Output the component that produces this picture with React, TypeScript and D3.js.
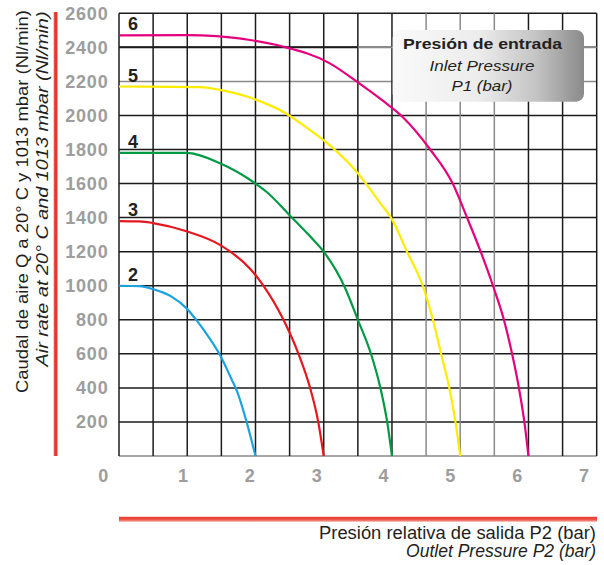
import React from "react";
import * as d3 from "d3";

// ---- data ----
const inletPressures = [2, 3, 4, 5, 6];
const curve2P2 = [0, 0.3, 0.5, 0.77, 0.99, 1.12, 1.26, 1.47, 1.65, 1.73, 1.87, 2.0];
const curve2Q = [1000, 998, 980, 936, 867, 805, 730, 600, 450, 380, 200, 0];
const curve3P2 = [0, 0.3, 0.5, 0.99, 1.48, 1.92, 2.1, 2.41, 2.63, 2.8, 2.92, 3.0];
const curve3Q = [1380, 1378, 1368, 1320, 1240, 1100, 1010, 800, 600, 400, 200, 0];
const curve4P2 = [0, 0.99, 1.48, 2.0, 2.16, 2.51, 2.8, 3.0, 3.31, 3.5, 3.7, 3.83, 3.93, 4.0];
const curve4Q = [1780, 1780, 1719, 1600, 1552, 1410, 1290, 1200, 990, 800, 590, 400, 200, 0];
const curve5P2 = [0, 1.19, 1.48, 1.92, 2.41, 2.8, 3.14, 3.46, 3.82, 4.0, 4.22, 4.45, 4.6, 4.72, 4.84, 4.93, 5.0];
const curve5Q = [2170, 2167, 2150, 2105, 2020, 1914, 1807, 1680, 1490, 1390, 1200, 1000, 800, 600, 400, 200, 0];
const curve6P2 = [0, 0.99, 1.43, 1.92, 2.4, 3.09, 3.48, 3.87, 4.16, 4.56, 4.89, 5.1, 5.3, 5.48, 5.64, 5.76, 5.86, 5.94, 6.0];
const curve6Q = [2470, 2472, 2466, 2443, 2405, 2306, 2200, 2085, 1990, 1800, 1600, 1400, 1200, 1000, 800, 600, 400, 200, 0];
const curveColors = ["#1aa3e0", "#e5171f", "#009a44", "#ffec00", "#e5007e"];

const yTickLabels = [200, 400, 600, 800, 1000, 1200, 1400, 1600, 1800, 2000, 2200, 2400, 2600];
const xTickLabels = [0, 1, 2, 3, 4, 5, 6, 7];
const gridX = d3.range(0, 7.01, 0.5);
const gridY = d3.range(0, 2601, 200);
const grayGridX = [4.5, 5, 5.5];
const grayGridY = [0, 2200];

const yTitle1 = "Caudal de aire Q a 20° C y 1013 mbar (Nl/min)";
const yTitle2 = "Air rate at 20° C and 1013 mbar (Nl/min)";
const xTitle1 = "Presión relativa de salida P2 (bar)";
const xTitle2 = "Outlet Pressure P2 (bar)";
const legend1 = "Presión de entrada";
const legend2 = "Inlet Pressure";
const legend3 = "P1 (bar)";

const curves = [
  { p2: curve2P2, q: curve2Q },
  { p2: curve3P2, q: curve3Q },
  { p2: curve4P2, q: curve4Q },
  { p2: curve5P2, q: curve5Q },
  { p2: curve6P2, q: curve6Q },
];

const FONT = "'Liberation Sans', Arial, Helvetica, sans-serif";

export default function App() {
  const x = d3.scaleLinear().domain([0, 7]).range([119, 596.7]);
  const y = d3.scaleLinear().domain([0, 2600]).range([456, 13.3]);
  const labelX = d3.scaleLinear().domain([1, 7]).range([183, 584]);
  const line = d3
    .line<[number, number]>()
    .x((d) => x(d[0]))
    .y((d) => y(d[1]))
    .curve(d3.curveMonotoneX);

  const dark = "#1e1b1c";
  const gray = "#8a8a8a";
  const textCol = "#231f20";

  return (
    <svg
      width={604}
      height={565}
      style={{ position: "absolute", left: 0, top: 0, display: "block", background: "#fff" }}
      fontFamily={FONT}
    >
      <defs>
        <linearGradient id="lg" x1="0" x2="1" y1="0" y2="0">
          <stop offset="0%" stopColor="#fafafa" />
          <stop offset="45%" stopColor="#ececec" />
          <stop offset="75%" stopColor="#c4c4c4" />
          <stop offset="100%" stopColor="#8a8a8a" />
        </linearGradient>
        <linearGradient id="redV" x1="0" x2="1" y1="0" y2="0">
          <stop offset="0%" stopColor="#f39a8f" />
          <stop offset="35%" stopColor="#e8352a" />
          <stop offset="100%" stopColor="#e8352a" />
        </linearGradient>
        <linearGradient id="redH" x1="0" x2="0" y1="0" y2="1">
          <stop offset="0%" stopColor="#e8352a" />
          <stop offset="60%" stopColor="#ec5a4c" />
          <stop offset="100%" stopColor="#f7b3a8" />
        </linearGradient>
      </defs>

      {/* grid */}
      {gridY.map((v) => (
        <line
          key={"h" + v}
          x1={x(0)}
          x2={x(7)}
          y1={y(v)}
          y2={y(v)}
          stroke={grayGridY.includes(v) ? gray : dark}
          strokeWidth={1.5}
        />
      ))}
      {gridX.map((v) => (
        <line
          key={"v" + v}
          x1={x(v)}
          x2={x(v)}
          y1={y(0)}
          y2={y(2600)}
          stroke={grayGridX.includes(v) ? gray : dark}
          strokeWidth={1.5}
        />
      ))}
      <line x1={x(0)} x2={x(3.5)} y1={y(2400)} y2={y(2400)} stroke={dark} strokeWidth={2} />
      <line x1={x(3.5)} x2={x(7)} y1={y(2400)} y2={y(2400)} stroke={gray} strokeWidth={1.6} />

      {/* curves */}
      {curves.map((c, i) => (
        <path
          key={"c" + i}
          d={line(c.p2.map((p, j) => [p, c.q[j]] as [number, number])) || ""}
          fill="none"
          stroke={curveColors[i]}
          strokeWidth={2.2}
        />
      ))}

      {/* curve labels */}
      {curves.map((c, i) => (
        <text
          key={"cl" + i}
          x={x(0) + 9}
          y={y(c.q[0]) - 5}
          fontSize={18}
          fontWeight="bold"
          fill={textCol}
        >
          {inletPressures[i]}
        </text>
      ))}

      {/* legend */}
      <rect x={392.7} y={30} width={191.3} height={71.7} rx={8} fill="url(#lg)" />
      <text x={482.5} y={48.5} textAnchor="middle" fontSize={15} fontWeight="bold" fill={textCol}
        textLength={159} lengthAdjust="spacingAndGlyphs">
        {legend1}
      </text>
      <text x={482} y={70.5} textAnchor="middle" fontSize={15} fontStyle="italic" fill={textCol}
        textLength={105} lengthAdjust="spacingAndGlyphs">
        {legend2}
      </text>
      <text x={482} y={91} textAnchor="middle" fontSize={15} fontStyle="italic" fill={textCol}
        textLength={61} lengthAdjust="spacingAndGlyphs">
        {legend3}
      </text>

      {/* y tick labels */}
      {yTickLabels.map((v) => (
        <text
          key={"yt" + v}
          x={108.5}
          y={y(v)}
          dy="0.36em"
          textAnchor="end"
          fontSize={18}
          fontWeight="bold"
          letterSpacing={0.8}
          fill="#9d9d9d"
        >
          {v}
        </text>
      ))}

      {/* x tick labels */}
      {xTickLabels.map((v) => (
        <text
          key={"xt" + v}
          x={v === 0 ? labelX(0) - 13 : labelX(v)}
          y={481.7}
          textAnchor="middle"
          fontSize={18}
          fontWeight="bold"
          fill="#9d9d9d"
        >
          {v}
        </text>
      ))}

      {/* red axis bars */}
      <rect x={53.5} y={12} width={4} height={y(0) - 12} fill="url(#redV)" />
      <rect x={119} y={516.8} width={478} height={5} fill="url(#redH)" />

      {/* y titles */}
      <text
        transform={`translate(28,201.5) rotate(-90)`}
        textAnchor="middle"
        fontSize={17}
        fill={textCol}
        textLength={383}
        lengthAdjust="spacingAndGlyphs"
      >
        {yTitle1}
      </text>
      <text
        transform={`translate(48,189) rotate(-90)`}
        textAnchor="middle"
        fontSize={17}
        fontStyle="italic"
        fill={textCol}
        textLength={355}
        lengthAdjust="spacingAndGlyphs"
      >
        {yTitle2}
      </text>

      {/* x titles */}
      <text x={596} y={539} textAnchor="end" fontSize={17.5} fill={textCol}
        textLength={277} lengthAdjust="spacingAndGlyphs">
        {xTitle1}
      </text>
      <text x={596} y={557} textAnchor="end" fontSize={17.5} fontStyle="italic" fill={textCol}
        textLength={190} lengthAdjust="spacingAndGlyphs">
        {xTitle2}
      </text>
    </svg>
  );
}
